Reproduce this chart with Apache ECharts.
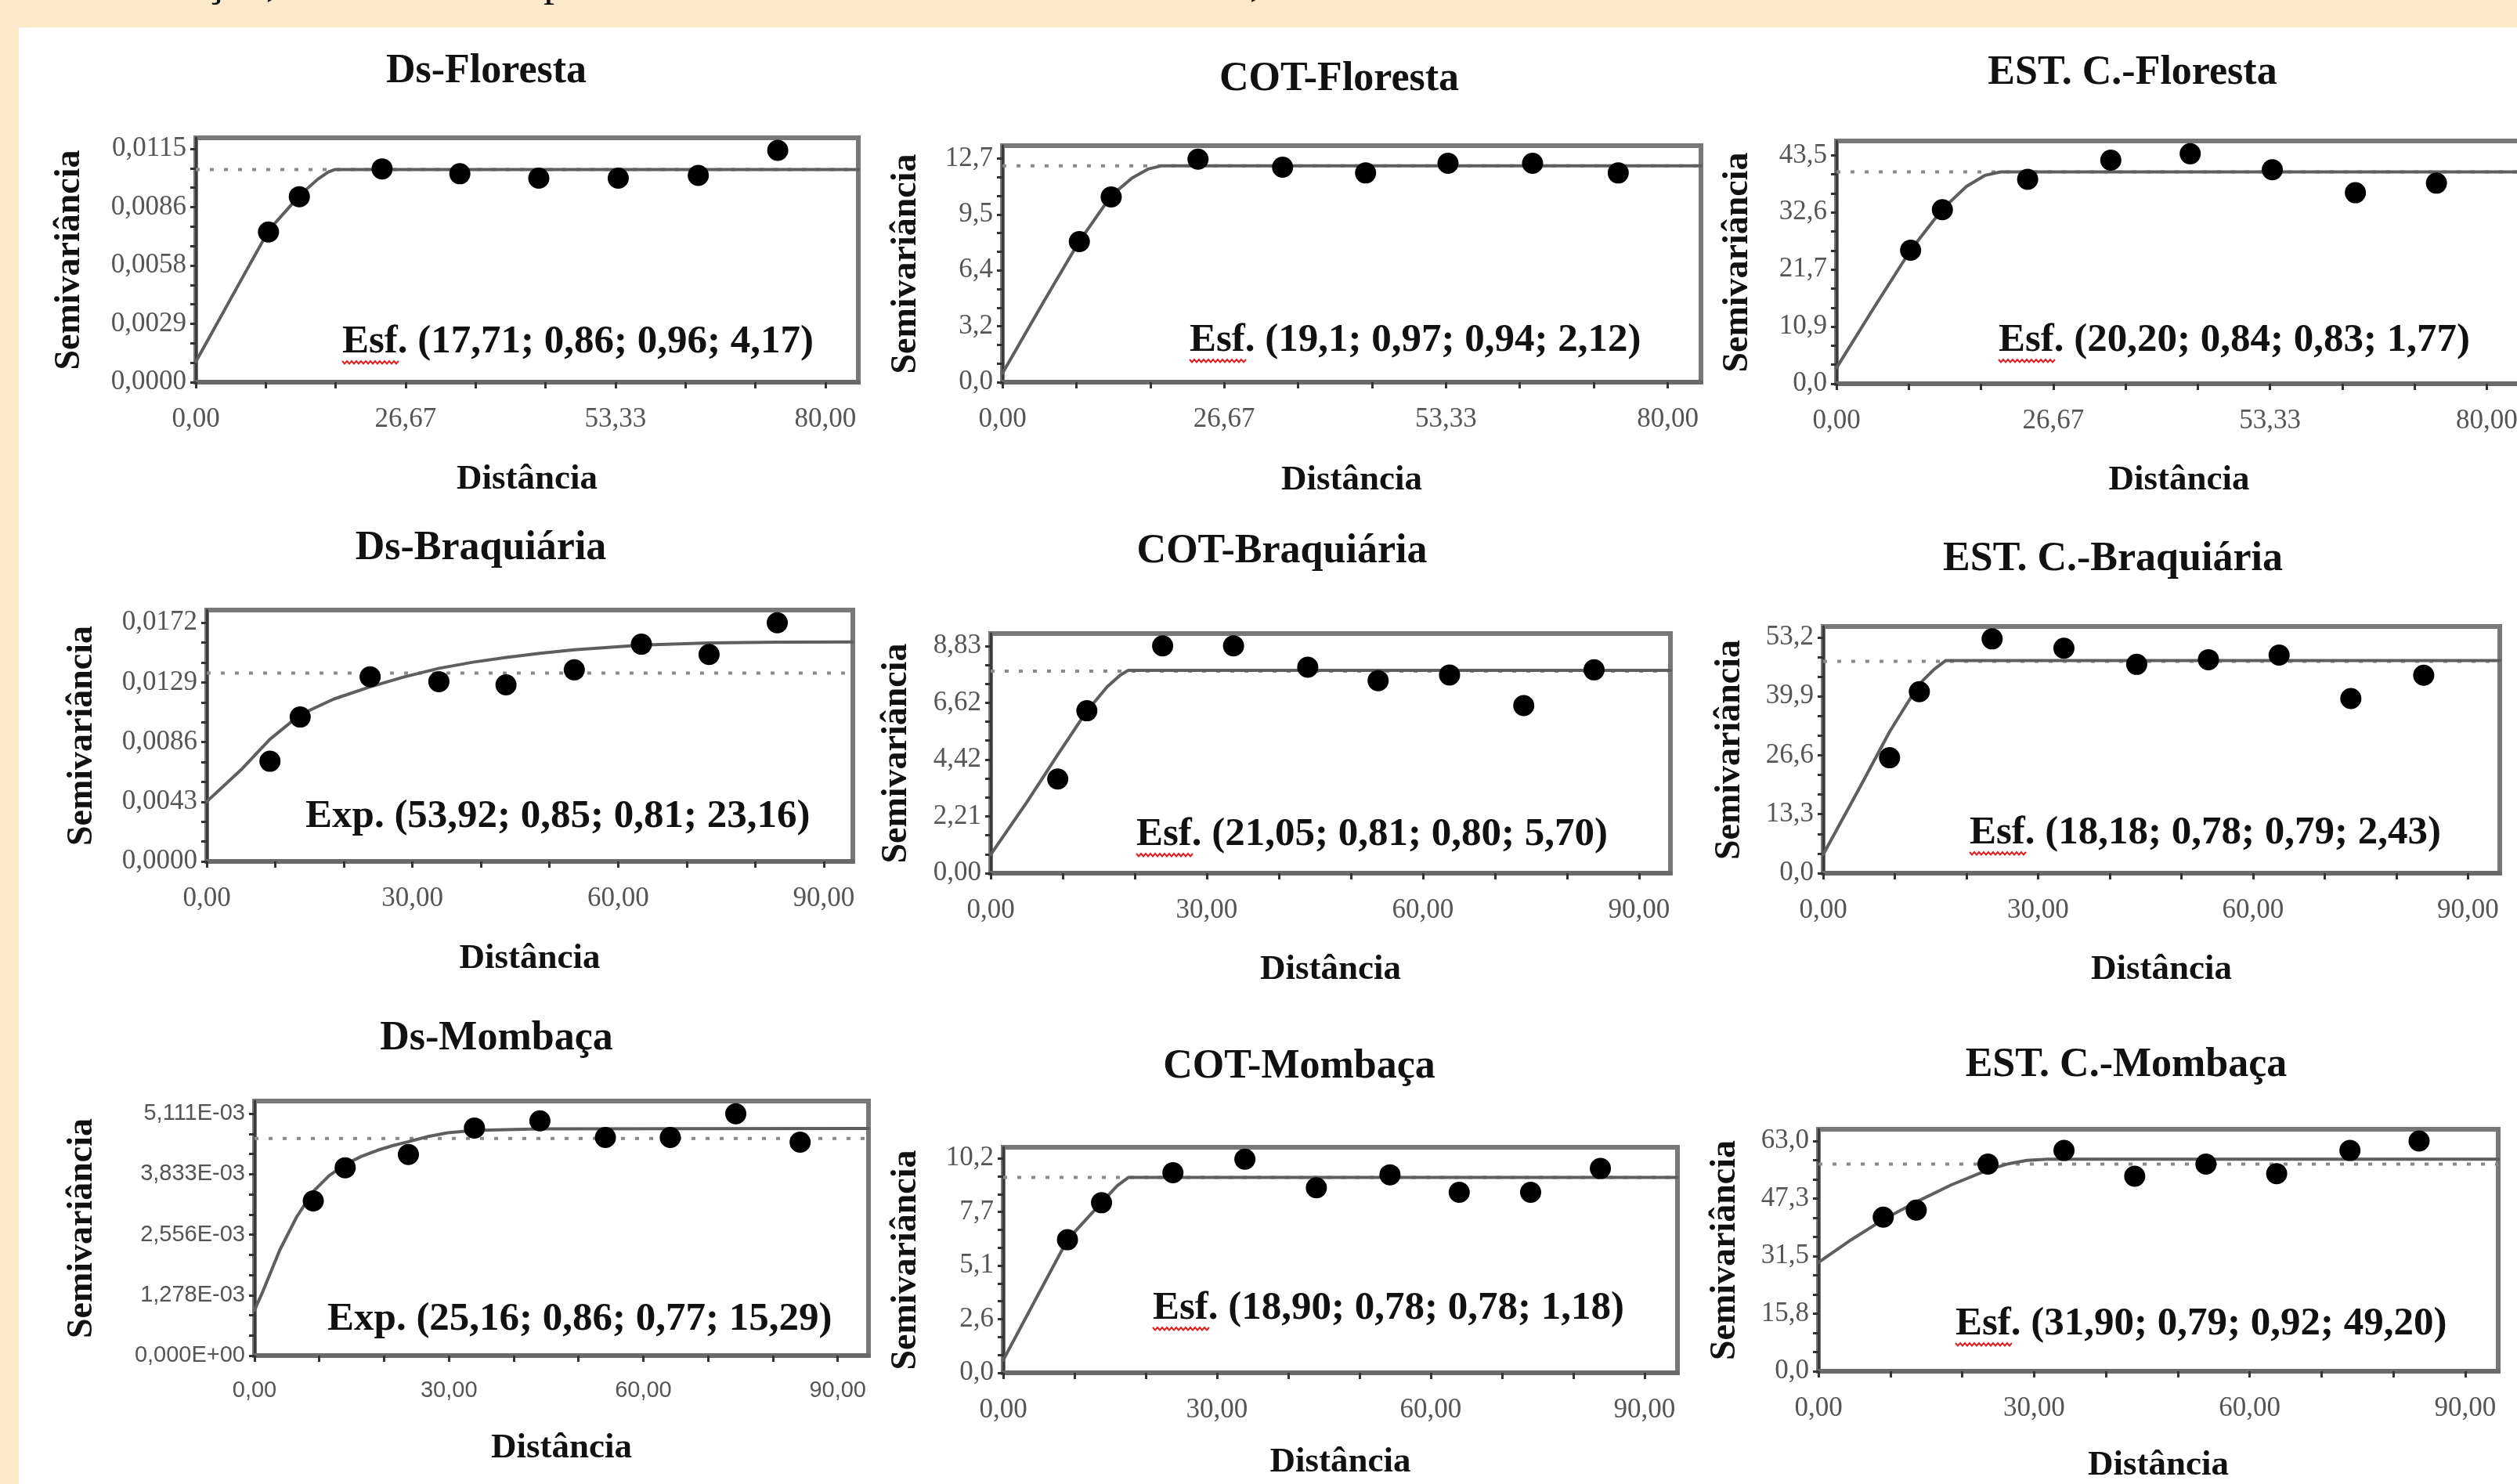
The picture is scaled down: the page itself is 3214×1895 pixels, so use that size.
<!DOCTYPE html>
<html>
<head>
<meta charset="utf-8">
<title>Semivariogramas</title>
<script src="https://cdn.jsdelivr.net/npm/echarts@6.0.0/dist/echarts.min.js"></script>
<style>
  html, body { margin: 0; padding: 0; }
  body { width: 3214px; height: 1895px; background: #fbe9c9; position: relative; overflow: hidden; }
  #sheet { position: absolute; left: 24px; top: 35px; right: 0; bottom: 0; background: #ffffff; }
  #main { position: absolute; left: 0; top: 0; width: 3214px; height: 1895px; }
</style>
</head>
<body>
<div id="sheet"></div>
<div id="main"></div>
<script>
// Ds-Floresta
const dsFlorestaLag   = [9.24, 13.16, 23.68, 33.56, 43.59, 53.69, 63.86, 73.96];
const dsFlorestaGamma = [0.00740, 0.00914, 0.01051, 0.01027, 0.01005, 0.01005, 0.01019, 0.01142];
const dsFlorestaModelX = [0, 5, 9.3, 13.2, 15.5, 16.8, 17.71, 84.2];
const dsFlorestaModelY = [0.0010, 0.0045, 0.0075, 0.0092, 0.0100, 0.01035, 0.01048, 0.01048];
// COT-Floresta
const cotFlorestaLag   = [9.25, 13.08, 23.52, 33.69, 43.67, 53.58, 63.75, 74.05];
const cotFlorestaGamma = [7.98, 10.52, 12.66, 12.21, 11.88, 12.43, 12.43, 11.88];
const cotFlorestaModelX = [0, 5, 9.25, 13.1, 15.6, 17.5, 19.1, 84.0];
const cotFlorestaModelY = [0.5, 4.6, 8.0, 10.6, 11.6, 12.1, 12.28, 12.28];
// EST. C.-Floresta
const estFlorestaLag   = [9.12, 13.03, 23.52, 33.75, 43.52, 53.62, 63.84, 73.81];
const estFlorestaGamma = [25.43, 33.16, 38.94, 42.59, 43.80, 40.76, 36.38, 38.21];
const estFlorestaModelX = [0, 4.5, 9.1, 13.0, 16.0, 18.3, 20.2, 84.3];
const estFlorestaModelY = [3.0, 14.2, 25.4, 33.2, 37.6, 39.7, 40.34, 40.34];
// Ds-Braquiária
const dsBraqLag   = [9.22, 13.63, 23.83, 33.86, 43.65, 53.61, 63.40, 73.27, 83.22];
const dsBraqGamma = [0.00722, 0.01041, 0.01331, 0.01296, 0.01273, 0.01381, 0.01566, 0.01492, 0.01720];
const dsBraqModelX = [0, 5, 9.2, 13.6, 18.5, 23.8, 28.8, 33.9, 38.8, 43.7, 48.6, 53.6, 63.4, 73.3, 83.3, 94.2];
const dsBraqModelY = [0.00431, 0.00660, 0.00880, 0.01057, 0.01170, 0.01258, 0.01330, 0.01392, 0.01436, 0.01470, 0.01500, 0.01526, 0.01559, 0.01575, 0.01580, 0.01582];
// COT-Braquiária
const cotBraqLag   = [9.31, 13.35, 23.87, 33.71, 44.01, 53.78, 63.69, 73.99, 83.75];
const cotBraqGamma = [3.66, 6.31, 8.83, 8.83, 8.00, 7.48, 7.70, 6.51, 7.90];
const cotBraqModelX = [0, 5, 9.3, 13.35, 16.2, 18.0, 19.1, 94.35];
const cotBraqModelY = [0.72, 2.75, 4.6, 6.3, 7.25, 7.7, 7.88, 7.88];
// EST. C.-Braquiária
const estBraqLag   = [9.27, 13.43, 23.59, 33.61, 43.77, 53.78, 63.65, 73.66, 83.83];
const estBraqGamma = [26.04, 40.95, 52.85, 50.75, 47.11, 48.16, 49.21, 39.41, 44.66];
const estBraqModelX = [0, 5, 9.27, 13.43, 15.5, 17.1, 94.45];
const estBraqModelY = [4.2, 19.0, 31.9, 42.7, 46.0, 47.95, 47.95];
// Ds-Mombaça
const dsMombLag   = [9.07, 13.99, 23.75, 33.94, 44.04, 54.15, 64.16, 74.27, 84.20];
const dsMombGamma = [0.00327, 0.00397, 0.00425, 0.00481, 0.00496, 0.00461, 0.00461, 0.00511, 0.00451];
const dsMombModelX = [0, 1.3, 3.9, 6.5, 9.07, 11.5, 14.0, 16.5, 19.0, 21.4, 23.75, 26.8, 29.8, 33.9, 44.0, 94.75];
const dsMombModelY = [0.00096, 0.00136, 0.00223, 0.00293, 0.00347, 0.00380, 0.00404, 0.00421, 0.00434, 0.00444, 0.00452, 0.00463, 0.00471, 0.00476, 0.00479, 0.00480];
// COT-Mombaça
const cotMombLag   = [9.02, 13.80, 23.82, 33.92, 43.95, 54.28, 64.00, 74.02, 83.81];
const cotMombGamma = [6.33, 8.09, 9.52, 10.16, 8.80, 9.42, 8.59, 8.59, 9.72];
const cotMombModelX = [0, 5, 9.02, 13.8, 16.0, 17.6, 94.6];
const cotMombModelY = [0.6, 3.78, 6.33, 8.1, 8.9, 9.3, 9.3];
// EST. C.-Mombaça
const estMombLag   = [9.02, 13.61, 23.59, 34.17, 44.01, 53.92, 63.76, 73.96, 83.58];
const estMombGamma = [42.17, 44.08, 56.66, 60.40, 53.37, 56.66, 54.06, 60.40, 63.00];
const estMombModelX = [0, 4.5, 9.02, 13.6, 18.5, 23.6, 26.5, 29.0, 31.9, 94.6];
const estMombModelY = [29.76, 35.9, 41.5, 46.3, 51.0, 55.1, 56.8, 57.7, 58.0, 58.0];

// variância amostral (linha pontilhada)
const sampleVariance = [0.01048, 12.28, 40.34, 0.01358, 7.85, 47.81, 0.004589, 9.30, 56.66];

// rótulos dos eixos
const yLabelsDsFloresta  = ['0,0000', '0,0029', '0,0058', '0,0086', '0,0115'];
const yLabelsCotFloresta = ['0,0', '3,2', '6,4', '9,5', '12,7'];
const yLabelsEstFloresta = ['0,0', '10,9', '21,7', '32,6', '43,5'];
const yLabelsDsBraq      = ['0,0000', '0,0043', '0,0086', '0,0129', '0,0172'];
const yLabelsCotBraq     = ['0,00', '2,21', '4,42', '6,62', '8,83'];
const yLabelsEstBraq     = ['0,0', '13,3', '26,6', '39,9', '53,2'];
const yLabelsDsMomb      = ['0,000E+00', '1,278E-03', '2,556E-03', '3,833E-03', '5,111E-03'];
const yLabelsCotMomb     = ['0,0', '2,6', '5,1', '7,7', '10,2'];
const yLabelsEstMomb     = ['0,0', '15,8', '31,5', '47,3', '63,0'];
const xLabelsFloresta = ['0,00', '26,67', '53,33', '80,00'];
const xLabels90       = ['0,00', '30,00', '60,00', '90,00'];

// extremos dos eixos (topo e direita da moldura)
const yAxisMax = [0.01204, 13.43, 46.24, 0.01812, 9.31, 55.65, 0.005379, 10.73, 66.21];
const xAxisMax = [84.2, 84.0, 84.3, 94.24, 94.35, 94.45, 94.75, 94.63, 94.59];

const titles = ['Ds-Floresta', 'COT-Floresta', 'EST. C.-Floresta',
                'Ds-Braquiária', 'COT-Braquiária', 'EST. C.-Braquiária',
                'Ds-Mombaça', 'COT-Mombaça', 'EST. C.-Mombaça'];
const notes = ['Esf. (17,71; 0,86; 0,96; 4,17)', 'Esf. (19,1; 0,97; 0,94; 2,12)', 'Esf. (20,20; 0,84; 0,83; 1,77)',
               'Exp. (53,92; 0,85; 0,81; 23,16)', 'Esf. (21,05; 0,81; 0,80; 5,70)', 'Esf. (18,18; 0,78; 0,79; 2,43)',
               'Exp. (25,16; 0,86; 0,77; 15,29)', 'Esf. (18,90; 0,78; 0,78; 1,18)', 'Esf. (31,90; 0,79; 0,92; 49,20)'];

const panels = [
  { lag: dsFlorestaLag,  gamma: dsFlorestaGamma,  mx: dsFlorestaModelX,  my: dsFlorestaModelY,  yl: yLabelsDsFloresta,  xl: xLabelsFloresta },
  { lag: cotFlorestaLag, gamma: cotFlorestaGamma, mx: cotFlorestaModelX, my: cotFlorestaModelY, yl: yLabelsCotFloresta, xl: xLabelsFloresta },
  { lag: estFlorestaLag, gamma: estFlorestaGamma, mx: estFlorestaModelX, my: estFlorestaModelY, yl: yLabelsEstFloresta, xl: xLabelsFloresta },
  { lag: dsBraqLag,  gamma: dsBraqGamma,  mx: dsBraqModelX,  my: dsBraqModelY,  yl: yLabelsDsBraq,  xl: xLabels90 },
  { lag: cotBraqLag, gamma: cotBraqGamma, mx: cotBraqModelX, my: cotBraqModelY, yl: yLabelsCotBraq, xl: xLabels90 },
  { lag: estBraqLag, gamma: estBraqGamma, mx: estBraqModelX, my: estBraqModelY, yl: yLabelsEstBraq, xl: xLabels90 },
  { lag: dsMombLag,  gamma: dsMombGamma,  mx: dsMombModelX,  my: dsMombModelY,  yl: yLabelsDsMomb,  xl: xLabels90 },
  { lag: cotMombLag, gamma: cotMombGamma, mx: cotMombModelX, my: cotMombModelY, yl: yLabelsCotMomb, xl: xLabels90 },
  { lag: estMombLag, gamma: estMombGamma, mx: estMombModelX, my: estMombModelY, yl: yLabelsEstMomb, xl: xLabels90 }
];

// ---- layout (px) ----
const boxes = [
  [250, 176, 846, 312], [1280, 186, 892, 302], [2345, 180, 875, 310],
  [264, 779, 825, 321], [1265, 809, 868, 306], [2328, 800, 864, 315],
  [325, 1406, 784, 325], [1281, 1465, 861, 288], [2322, 1442, 868, 309]
];
const titlePos = [[621, 92], [1710, 102], [2723, 94], [614, 701], [1637, 705], [2698, 715], [634, 1327], [1659, 1363], [2715, 1361]];
const notePos = [[437, 437], [1519, 435], [2552, 435], [390, 1043], [1451, 1066], [2515, 1064], [418, 1685], [1472, 1671], [2497, 1691]];
const yNameGap = [138, 100, 103, 136, 97, 96, 197, 101, 96];
const xNameGap = [102, 103, 101, 102, 101, 101, 96, 92, 98];

const serif = '"Liberation Serif", "Times New Roman", serif';
const sans = '"Liberation Sans", Arial, sans-serif';

function num(s) { return parseFloat(s.replace(',', '.')); }
function labelValues(labels) {
  const top = num(labels[labels.length - 1]);
  return labels.map((l, i) => top * i / (labels.length - 1));
}
function tickValues(labels, sub) {
  const top = num(labels[labels.length - 1]);
  const n = (labels.length - 1) * sub;
  const out = [];
  for (let i = 0; i <= n; i++) out.push(top * i / n);
  return out;
}
function labelFormatter(labels) {
  const top = num(labels[labels.length - 1]);
  const step = top / (labels.length - 1);
  return function (v) {
    const k = Math.round(v / step);
    if (k < 0 || k >= labels.length) return '';
    return Math.abs(v - k * step) < step * 1e-3 ? labels[k] : '';
  };
}

const grid = [], xAxis = [], yAxis = [], series = [], graphic = [];

panels.forEach((p, i) => {
  const b = boxes[i];
  const isSansPanel = i === 6;
  grid.push({
    left: b[0], top: b[1], width: b[2], height: b[3],
    show: true, borderColor: '#787878', borderWidth: 6, backgroundColor: 'transparent',
    containLabel: false, outerBoundsMode: 'none'
  });
  const xTop = num(p.xl[p.xl.length - 1]);
  xAxis.push({
    gridIndex: i, type: 'value', min: 0, max: xAxisMax[i], interval: xTop / 9,
    axisLine: { show: true, onZero: false, lineStyle: { color: '#6a6a6a', width: 6 } },
    axisTick: { show: true, customValues: tickValues(p.xl, 3), length: 8, lineStyle: { color: '#333', width: 3 } },
    axisLabel: {
      customValues: labelValues(p.xl), formatter: labelFormatter(p.xl),
      fontFamily: isSansPanel ? sans : serif, fontSize: isSansPanel ? 29 : 35, color: '#555', margin: 30
    },
    splitLine: { show: false },
    name: 'Distância', nameLocation: 'middle', nameGap: xNameGap[i],
    nameTextStyle: { fontFamily: serif, fontWeight: 'bold', fontSize: 45, color: '#111' }
  });
  const yTop = num(p.yl[p.yl.length - 1]);
  yAxis.push({
    gridIndex: i, type: 'value', min: 0, max: yAxisMax[i], interval: yTop / 12,
    axisLine: { show: true, onZero: false, lineStyle: { color: '#3a3a3a', width: 3 } },
    axisTick: { show: true, customValues: tickValues(p.yl, 3), length: 7, lineStyle: { color: '#333', width: 3 } },
    axisLabel: {
      customValues: labelValues(p.yl), formatter: labelFormatter(p.yl),
      fontFamily: isSansPanel ? sans : serif, fontSize: isSansPanel ? 29 : 35, color: '#555', margin: 12
    },
    splitLine: { show: false },
    name: 'Semivariância', nameLocation: 'middle', nameGap: yNameGap[i],
    nameTextStyle: { fontFamily: serif, fontWeight: 'bold', fontSize: 46, color: '#111' }
  });

  // variância (pontilhada)
  series.push({
    type: 'line', xAxisIndex: i, yAxisIndex: i, z: 1, symbol: 'none', silent: true,
    data: [[p.mx[0], sampleVariance[i]], [p.mx[p.mx.length - 1], sampleVariance[i]]],
    lineStyle: { color: '#8a8a8a', width: 4, type: [5, 13] }
  });
  // modelo ajustado
  series.push({
    type: 'line', xAxisIndex: i, yAxisIndex: i, z: 2, symbol: 'none', silent: true,
    smooth: false,
    data: p.mx.map((x, k) => [x, p.my[k]]),
    lineStyle: { color: '#5e5e5e', width: 4, cap: 'round', join: 'round' }
  });
  // semivariância experimental
  series.push({
    type: 'scatter', xAxisIndex: i, yAxisIndex: i, z: 3, symbolSize: 27,
    data: p.lag.map((x, k) => [x, p.gamma[k]]),
    itemStyle: { color: '#000000', opacity: 1 }
  });

  graphic.push({
    type: 'text', x: titlePos[i][0], y: titlePos[i][1],
    style: { text: titles[i], font: 'bold 52px ' + serif, fill: '#111',
             align: 'center', verticalAlign: 'middle', textAlign: 'center', textVerticalAlign: 'middle' }
  });
  graphic.push({
    type: 'text', x: notePos[i][0], y: notePos[i][1],
    style: { text: notes[i], font: 'bold 51px ' + serif, fill: '#111',
             align: 'left', verticalAlign: 'middle', textAlign: 'left', textVerticalAlign: 'middle' }
  });
  if (notes[i].indexOf('Esf') === 0) {
    // sublinhado ondulado do corretor
    const pts = [];
    const x0 = notePos[i][0], y0 = notePos[i][1] + 25;
    for (let k = 0; k <= 24; k++) pts.push([x0 + k * 3, y0 + (k % 2 ? 2.5 : -1)]);
    graphic.push({ type: 'polyline', shape: { points: pts }, style: { stroke: '#e02020', lineWidth: 2, fill: null } });
  }
});

// fragmentos cortados da linha de texto acima da figura
[['ção,', 262], ['p', 694], [',', 1596]].forEach(t => {
  graphic.push({
    type: 'text', x: t[1], y: -21,
    style: { text: t[0], font: '56px ' + serif, fill: '#111',
             align: 'left', verticalAlign: 'middle', textAlign: 'left', textVerticalAlign: 'middle' }
  });
});

const chart = echarts.init(document.getElementById('main'), null, { renderer: 'canvas' });
chart.setOption({
  backgroundColor: 'transparent',
  animation: false,
  grid: grid,
  xAxis: xAxis,
  yAxis: yAxis,
  series: series,
  graphic: graphic
});
</script>
</body>
</html>
